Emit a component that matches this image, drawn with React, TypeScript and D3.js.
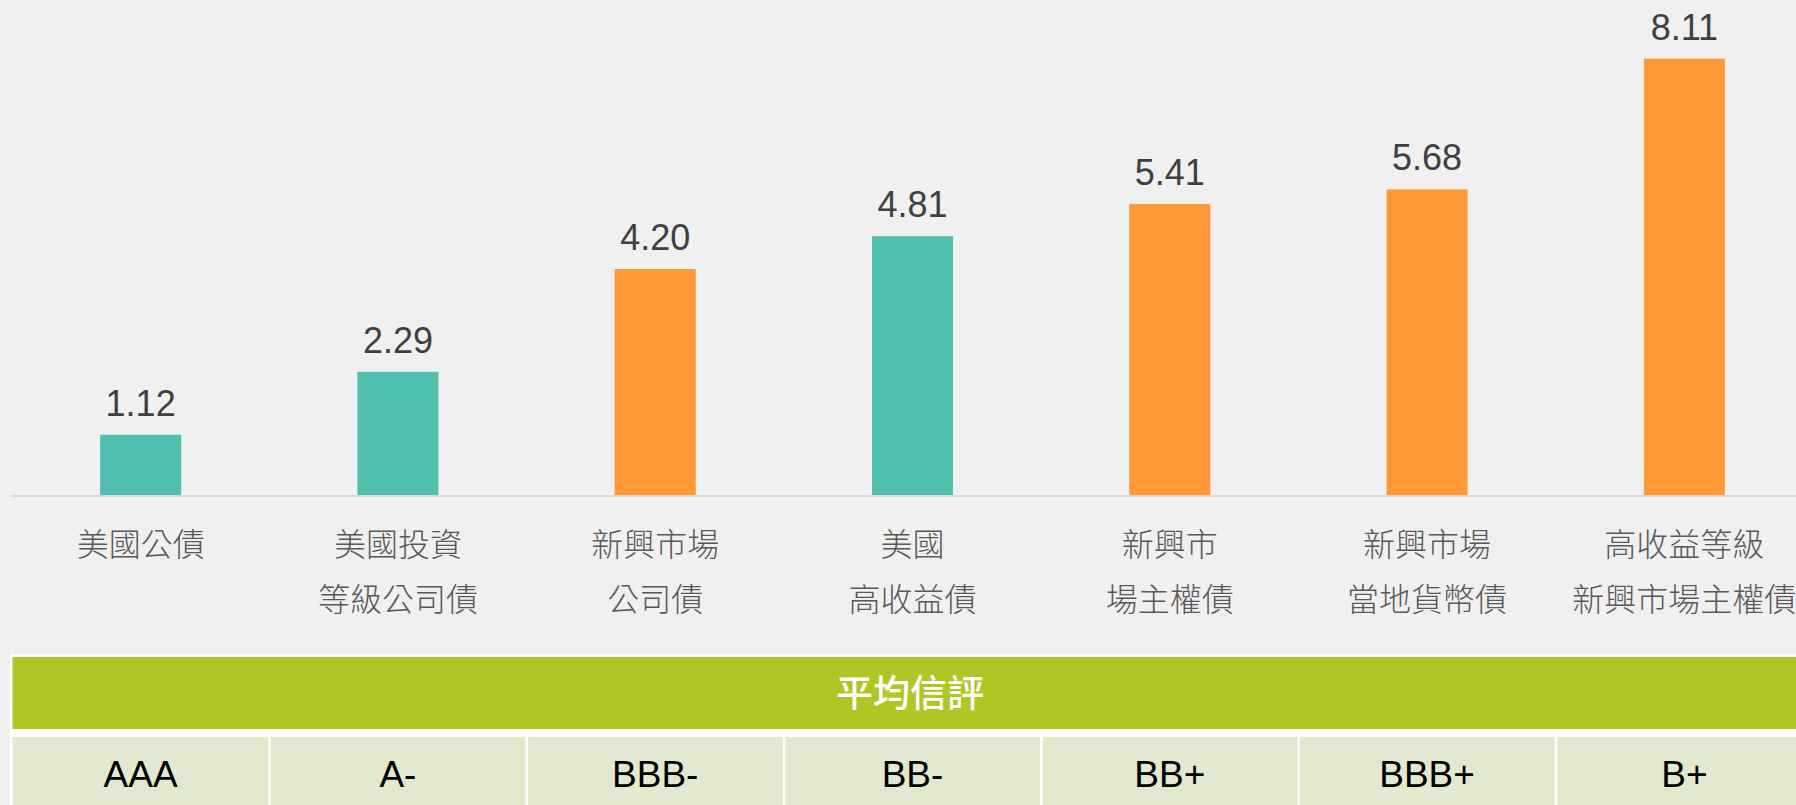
import React, { useEffect, useRef } from 'react';
import * as d3 from 'd3';

// bond categories (two-line labels)
const categories = [
  ['美國公債'],
  ['美國投資', '等級公司債'],
  ['新興市場', '公司債'],
  ['美國', '高收益債'],
  ['新興市', '場主權債'],
  ['新興市場', '當地貨幣債'],
  ['高收益等級', '新興市場主權債'],
];
const yields = [1.12, 2.29, 4.2, 4.81, 5.41, 5.68, 8.11];
const groups = ['us', 'us', 'em', 'us', 'em', 'em', 'em'];
const ratings = ['AAA', 'A-', 'BBB-', 'BB-', 'BB+', 'BBB+', 'B+'];
const tableTitle = '平均信評';

const App = () => {
  const ref = useRef<SVGSVGElement | null>(null);

  useEffect(() => {
    const width = 1796;
    const height = 805;
    const baseline = 495;

    const svg = d3.select(ref.current);
    svg.selectAll('*').remove();
    svg.attr('width', width).attr('height', height);

    svg.append('rect').attr('width', width).attr('height', height).attr('fill', '#f0f0f0');

    const x = d3
      .scaleBand<number>()
      .domain(d3.range(yields.length))
      .range([12, 1813])
      .paddingInner(0.685)
      .paddingOuter(0.3425);

    const col = d3.scaleBand<number>().domain(d3.range(ratings.length)).range([12, 1813]);

    const y = d3.scaleLinear().domain([0, 9.2]).range([baseline, 0]);

    const color = d3.scaleOrdinal<string>().domain(['us', 'em']).range(['#50bfae', '#fe9935']);

    // bars
    svg
      .selectAll('.bar')
      .data(yields)
      .enter()
      .append('rect')
      .attr('class', 'bar')
      .attr('x', (d, i) => x(i)!)
      .attr('y', (d) => y(d))
      .attr('width', x.bandwidth())
      .attr('height', (d) => baseline - y(d))
      .attr('fill', (d, i) => color(groups[i]));

    // axis line
    svg
      .append('line')
      .attr('x1', 10)
      .attr('x2', width)
      .attr('y1', baseline + 1)
      .attr('y2', baseline + 1)
      .attr('stroke', '#d9d9d9')
      .attr('stroke-width', 2);

    // value labels
    svg
      .selectAll('.val')
      .data(yields)
      .enter()
      .append('text')
      .attr('class', 'val')
      .attr('x', (d, i) => x(i)! + x.bandwidth() / 2)
      .attr('y', (d) => y(d) - 19)
      .attr('text-anchor', 'middle')
      .attr('font-family', '"Liberation Sans", Arial, sans-serif')
      .attr('font-size', 36)
      .attr('fill', '#404040')
      .text((d) => d.toFixed(2));

    // category labels
    const cat = svg
      .selectAll('.cat')
      .data(categories)
      .enter()
      .append('text')
      .attr('class', 'cat')
      .attr('text-anchor', 'middle')
      .attr('font-family', '"Noto Sans CJK TC", "Noto Sans CJK SC", sans-serif')
      .attr('font-size', 32)
      .attr('font-weight', 300)
      .attr('fill', '#595959');
    cat
      .selectAll('tspan')
      .data((d, i) => d.map((line) => ({ line, i })))
      .enter()
      .append('tspan')
      .attr('x', (d) => x(d.i)! + x.bandwidth() / 2)
      .attr('y', (d, j) => 556 + j * 55)
      .text((d) => d.line);

    // rating table
    svg
      .append('rect')
      .attr('x', 10)
      .attr('y', 654)
      .attr('width', width)
      .attr('height', height - 654)
      .attr('fill', '#ffffff');

    svg
      .append('rect')
      .attr('x', 12.5)
      .attr('y', 657)
      .attr('width', width)
      .attr('height', 72)
      .attr('fill', '#b1c524');

    svg
      .append('text')
      .attr('x', 910)
      .attr('y', 707)
      .attr('text-anchor', 'middle')
      .attr('font-family', '"Noto Sans CJK TC", "Noto Sans CJK SC", sans-serif')
      .attr('font-size', 37)
      .attr('font-weight', 500)
      .attr('fill', '#ffffff')
      .text(tableTitle);

    svg
      .selectAll('.cell')
      .data(ratings)
      .enter()
      .append('rect')
      .attr('class', 'cell')
      .attr('x', (d, i) => col(i)! + (i === 0 ? 0.5 : 1.5))
      .attr('y', 737)
      .attr('width', (d, i) => col.bandwidth() - (i === 0 ? 1.5 : 2.5))
      .attr('height', 80)
      .attr('fill', '#e3e9cf');

    svg
      .selectAll('.rating')
      .data(ratings)
      .enter()
      .append('text')
      .attr('class', 'rating')
      .attr('x', (d, i) => col(i)! + col.bandwidth() / 2)
      .attr('y', 787)
      .attr('text-anchor', 'middle')
      .attr('font-family', '"Liberation Sans", Arial, sans-serif')
      .attr('font-size', 37)
      .attr('fill', '#000000')
      .text((d) => d);
  }, []);

  return <svg ref={ref} style={{ position: 'absolute', left: 0, top: 0, display: 'block' }} />;
};

export default App;
